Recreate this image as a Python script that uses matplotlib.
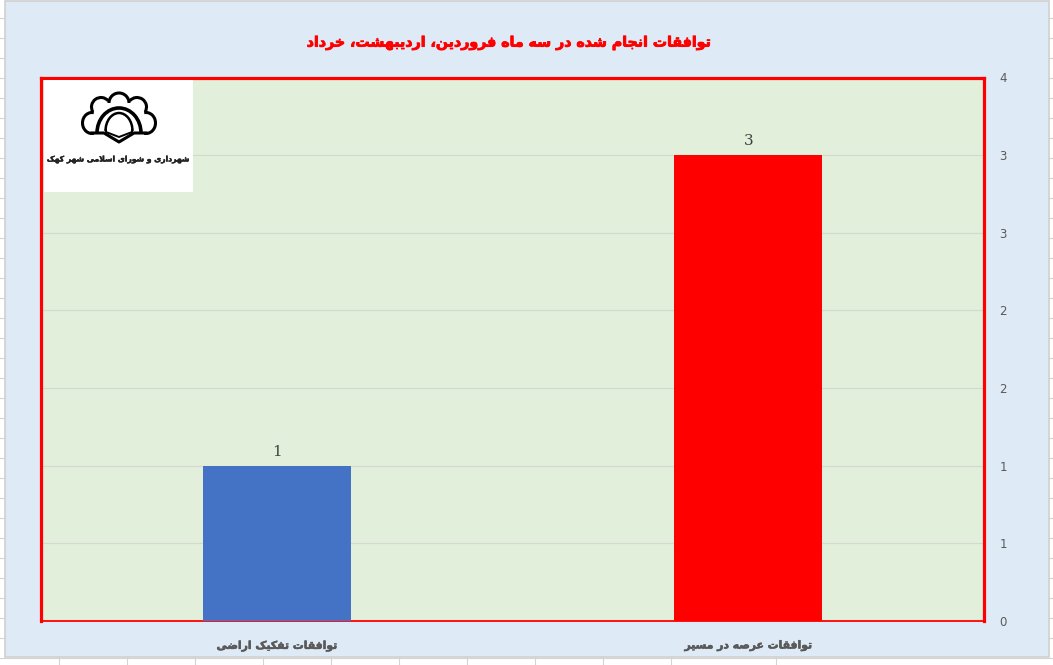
import matplotlib
matplotlib.use('Agg')
import matplotlib.pyplot as plt
import matplotlib.patheffects as pe
from matplotlib.patches import Arc, Rectangle

W, H = 1053, 665

categories = ['توافقات تفکیک اراضی', 'توافقات عرصه در مسیر']
values = [1, 3]
bar_colors = ['#4472C4', '#FF0000']
tick_values = [0, 0.5, 1, 1.5, 2, 2.5, 3, 3.5]
tick_labels = ['0', '1', '1', '2', '2', '3', '3', '4']
title = 'توافقات انجام شده در سه ماه فروردین، اردیبهشت، خرداد'
logo_text = 'شهرداری و شورای اسلامی شهر کهک'

# matplotlib does not shape Arabic script, so pick the joined glyphs by hand
# (isolated, final, initial, medial)
FORMS = {
    'ب': 0xFE8F, 'ت': 0xFE95, 'ج': 0xFE9D, 'خ': 0xFEA5, 'س': 0xFEB1, 'ش': 0xFEB5,
    'ص': 0xFEB9, 'ض': 0xFEBD, 'ع': 0xFEC9, 'ف': 0xFED1, 'ق': 0xFED5, 'ل': 0xFEDD,
    'م': 0xFEE1, 'ن': 0xFEE5, 'ه': 0xFEE9, 'ی': 0xFBFC, 'ک': 0xFB8E,
}
RIGHT_ONLY = {'ا': 0xFE8D, 'د': 0xFEA9, 'ر': 0xFEAD, 'ز': 0xFEAF, 'و': 0xFEED}


def shape(text):
    out = []
    prev_joins = False
    i = 0
    while i < len(text):
        c = text[i]
        nxt = text[i + 1] if i + 1 < len(text) else ''
        if c == 'ل' and nxt == 'ا':
            out.append(chr(0xFEFC if prev_joins else 0xFEFB))
            prev_joins = False
            i += 2
            continue
        if c in FORMS:
            base = FORMS[c]
            next_joins = nxt in FORMS or nxt in RIGHT_ONLY
            if prev_joins:
                out.append(chr(base + (3 if next_joins else 1)))
            else:
                out.append(chr(base + (2 if next_joins else 0)))
            prev_joins = next_joins
        elif c in RIGHT_ONLY:
            out.append(chr(RIGHT_ONLY[c] + (1 if prev_joins else 0)))
            prev_joins = False
        else:
            out.append(c)
            prev_joins = False
        i += 1
    return ''.join(reversed(out))


def px_axes(fig, x0, y0, x1, y1, **kw):
    return fig.add_axes([x0 / W, 1 - y1 / H, (x1 - x0) / W, (y1 - y0) / H], **kw)


def heavy(color, width=0.6):
    # the original font is much blacker than DejaVu Bold
    return [pe.withStroke(linewidth=width, foreground=color)]


fig = plt.figure(figsize=(W / 100, H / 100), dpi=100, facecolor='white')

# spreadsheet cells behind the chart, in pixel coordinates
bg = fig.add_axes([0, 0, 1, 1])
bg.set_xlim(0, W)
bg.set_ylim(H, 0)
bg.axis('off')
for y in range(18, 660, 20):
    bg.plot([0, W], [y, y], color='#D4D4D4', lw=0.8)
for x in list(range(59, 672, 68)) + [776]:
    bg.plot([x, x], [657, H], color='#D4D4D4', lw=0.8)
bg.add_patch(Rectangle((4.5, 1), 1044.5, 656, facecolor='#DEEAF6', edgecolor='#D0D0D0', lw=1.2, zorder=3))

ax = px_axes(fig, 41, 77.5, 984, 621, facecolor='#E2EFDA')
bars = ax.bar([0, 1], values, width=0.314, color=bar_colors, zorder=3)
ax.set_xlim(-0.5, 1.5)
ax.set_ylim(0, 3.5)
ax.yaxis.tick_right()
ax.set_yticks(tick_values)
ax.set_yticklabels(tick_labels, fontsize=8.5, color='#595959')
ax.set_xticks([0, 1])
ax.set_xticklabels([shape(c) for c in categories], fontsize=7.8, fontweight='bold', color='#595959',
                   path_effects=heavy('#595959', 0.4))
ax.tick_params(axis='both', length=0)
ax.tick_params(axis='y', pad=11)
ax.tick_params(axis='x', pad=14)
ax.grid(axis='y', color='#D3D9D0', lw=0.8, zorder=0)
ax.set_axisbelow(True)
for side in ['top', 'left', 'right']:
    ax.spines[side].set_color('#FF0000')
    ax.spines[side].set_linewidth(2.3)
ax.spines['bottom'].set_color('#FF0000')
ax.spines['bottom'].set_linewidth(1.3)
for bar, v in zip(bars, values):
    ax.annotate(str(v), (bar.get_x() + bar.get_width() / 2, v), xytext=(0, 5), textcoords='offset points',
                ha='center', va='bottom', fontsize=11, family='DejaVu Serif', color='#404040')

fig.text(508 / W, 1 - 43 / H, shape(title), ha='center', va='center', fontsize=10.2,
         fontweight='bold', color='#FF0000', path_effects=heavy('#FF0000'))

# logo box, pixel coordinates inside the white square
logo = px_axes(fig, 44, 80, 193, 192, facecolor='white')
logo.set_xlim(0, 149)
logo.set_ylim(112, 0)
logo.set_xticks([])
logo.set_yticks([])
for s in logo.spines.values():
    s.set_visible(False)
lobes = [(75, 23, 20, 20, 180, 360), (57, 27, 19, 19, 150, 320), (93, 27, 19, 19, 220, 30),
         (48, 43, 19, 21, 80, 280), (102, 43, 19, 21, 260, 100)]
for cx, cy, w, h, t1, t2 in lobes:
    logo.add_patch(Arc((cx, cy), w, h, theta1=t1, theta2=t2, color='black', lw=2.2))
logo.plot([48, 60, 75, 90, 102], [53, 53, 62, 53, 53], color='black', lw=2.2)
logo.add_patch(Arc((75, 53), 44, 50, theta1=180, theta2=360, color='black', lw=2.6))
logo.add_patch(Arc((75, 51), 27, 36, theta1=180, theta2=360, color='black', lw=1.8))
logo.plot([62, 62, 75, 88, 88], [50, 52, 57, 52, 50], color='black', lw=1.4)
logo.text(74.5, 79, shape(logo_text), ha='center', va='center', fontsize=5.5, fontweight='bold', color='#222222',
          path_effects=heavy('#222222', 0.3))

fig.savefig('out.png', dpi=100)
